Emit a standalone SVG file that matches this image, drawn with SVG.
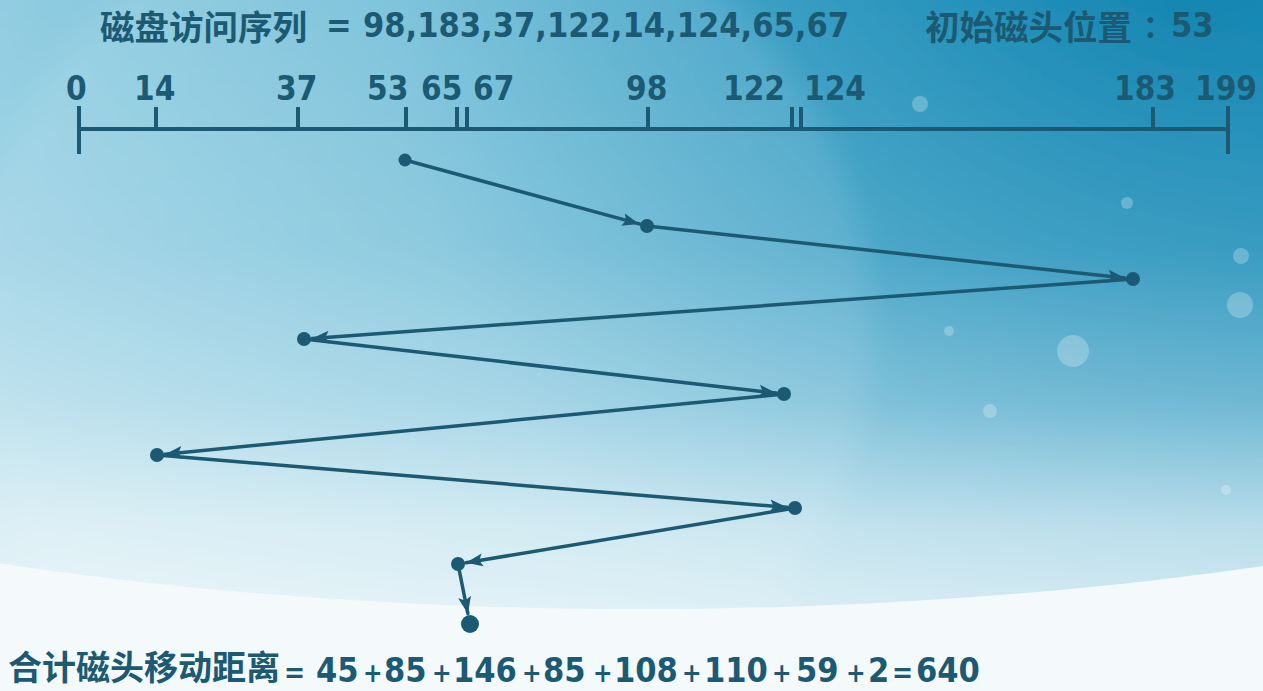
<svg xmlns="http://www.w3.org/2000/svg" width="1263" height="691" viewBox="0 0 1263 691">
<defs>
<linearGradient id="bgH" x1="0" y1="0" x2="1" y2="0">
<stop offset="0" stop-color="#93cee2"/>
<stop offset="0.45" stop-color="#62b6d3"/>
<stop offset="1" stop-color="#2597c1"/>
</linearGradient>
<linearGradient id="bgV" x1="0" y1="0" x2="0" y2="1">
<stop offset="0" stop-color="#ffffff" stop-opacity="0"/>
<stop offset="0.4" stop-color="#ffffff" stop-opacity="0.12"/>
<stop offset="0.65" stop-color="#ffffff" stop-opacity="0.35"/>
<stop offset="0.85" stop-color="#ffffff" stop-opacity="0.68"/>
<stop offset="1" stop-color="#ffffff" stop-opacity="0.8"/>
</linearGradient>
<radialGradient id="dark" cx="1200" cy="0" r="800" gradientUnits="userSpaceOnUse">
<stop offset="0" stop-color="#1082ae" stop-opacity="0.85"/>
<stop offset="0.5" stop-color="#1a8ab5" stop-opacity="0.45"/>
<stop offset="1" stop-color="#2a95bf" stop-opacity="0"/>
</radialGradient>
<radialGradient id="glow" cx="420" cy="330" r="470" gradientUnits="userSpaceOnUse">
<stop offset="0" stop-color="#ffffff" stop-opacity="0.12"/>
<stop offset="0.92" stop-color="#ffffff" stop-opacity="0.1"/>
<stop offset="1" stop-color="#ffffff" stop-opacity="0"/>
</radialGradient>
<clipPath id="dome">
<ellipse cx="640" cy="120" rx="1520" ry="489"/>
</clipPath>
<filter id="soft" x="-0.1" y="-0.1" width="1.2" height="1.2">
<feGaussianBlur stdDeviation="6"/>
</filter>
<marker id="arr" markerUnits="userSpaceOnUse" markerWidth="18" markerHeight="14" refX="17" refY="7" orient="auto">
<path d="M0,0.5 L17,7 L0,13.5 L3.5,7 Z" fill="#1b5a72"/>
</marker>
<style>
.ink{fill:#1b5a72}
.ln{stroke:#1b5a72;stroke-width:3.5;fill:none;stroke-linecap:round}
.ax{stroke:#1b5a72;stroke-width:4;fill:none}
.num{font-family:"DejaVu Sans Condensed","DejaVu Sans",sans-serif;font-stretch:condensed;font-weight:bold;fill:#1b5a72}
.cjk{font-family:"Noto Sans CJK SC","Noto Sans",sans-serif;font-weight:bold;fill:#1b5a72}
.bub{fill:#ffffff;opacity:0.25}
</style>
</defs>

<g id="background">
<rect width="1263" height="691" fill="#f4f9fb"/>
<g clip-path="url(#dome)" filter="url(#soft)">
<rect x="-20" y="-20" width="1303" height="640" fill="url(#bgH)"/>
<rect x="-20" y="-20" width="1303" height="640" fill="url(#dark)"/>
<rect x="-20" y="-20" width="1303" height="640" fill="url(#glow)"/>
<rect x="-20" y="0" width="1303" height="620" fill="url(#bgV)"/>
</g>
<circle class="bub" cx="920" cy="104" r="8"/>
<circle class="bub" cx="1127" cy="203" r="6"/>
<circle class="bub" cx="1241" cy="256" r="8"/>
<circle class="bub" cx="1240" cy="305" r="13"/>
<circle class="bub" cx="1073" cy="351" r="16"/>
<circle class="bub" cx="990" cy="411" r="7"/>
<circle class="bub" cx="949" cy="331" r="5"/>
<circle class="bub" cx="1226" cy="490" r="5"/>
</g>

<g id="title">
<text x="100" y="40" class="cjk" font-size="34.5">磁盘访问序列</text>
<text x="326" y="37" class="num" font-size="34">=</text>
<text x="363" y="37" class="num" font-size="34" textLength="486" lengthAdjust="spacingAndGlyphs">98,183,37,122,14,124,65,67</text>
</g>

<g id="initial-head">
<text x="925" y="40" class="cjk" font-size="34.5">初始磁头位置</text>
<text x="1143" y="37" class="cjk" font-size="30">：</text>
<text x="1171" y="37" class="num" font-size="34">53</text>
</g>

<g id="axis">
<line class="ax" x1="78" y1="129" x2="1229" y2="129"/>
<line class="ax" x1="79" y1="106" x2="79" y2="154"/>
<line class="ax" x1="1228" y1="106" x2="1228" y2="154"/>
<line class="ax" x1="156" y1="107" x2="156" y2="129"/>
<line class="ax" x1="298" y1="107" x2="298" y2="129"/>
<line class="ax" x1="406" y1="107" x2="406" y2="129"/>
<line class="ax" x1="457" y1="107" x2="457" y2="129"/>
<line class="ax" x1="467" y1="107" x2="467" y2="129"/>
<line class="ax" x1="648" y1="107" x2="648" y2="129"/>
<line class="ax" x1="792" y1="107" x2="792" y2="129"/>
<line class="ax" x1="801" y1="107" x2="801" y2="129"/>
<line class="ax" x1="1153" y1="107" x2="1153" y2="129"/>
<text x="66" y="100" class="num" font-size="33">0</text>
<text x="134" y="100" class="num" font-size="33">14</text>
<text x="276" y="100" class="num" font-size="33">37</text>
<text x="367" y="100" class="num" font-size="33">53</text>
<text x="421" y="100" class="num" font-size="33">65</text>
<text x="473" y="100" class="num" font-size="33">67</text>
<text x="626" y="100" class="num" font-size="33">98</text>
<text x="723" y="100" class="num" font-size="33">122</text>
<text x="804" y="100" class="num" font-size="33">124</text>
<text x="1114" y="100" class="num" font-size="33">183</text>
<text x="1195" y="100" class="num" font-size="33">199</text>
</g>

<g id="connectors">
<line class="ln" x1="405" y1="160" x2="639.3" y2="223.9" marker-end="url(#arr)"/>
<line class="ln" x1="647" y1="226" x2="1125" y2="278.1" marker-end="url(#arr)"/>
<line class="ln" x1="1133" y1="279" x2="312" y2="338.4" marker-end="url(#arr)"/>
<line class="ln" x1="304" y1="339" x2="776.1" y2="393.1" marker-end="url(#arr)"/>
<line class="ln" x1="784" y1="394" x2="165" y2="454.2" marker-end="url(#arr)"/>
<line class="ln" x1="157" y1="455" x2="787" y2="507.3" marker-end="url(#arr)"/>
<line class="ln" x1="795" y1="508" x2="465.9" y2="562.7" marker-end="url(#arr)"/>
<line class="ln" x1="458" y1="564" x2="467.9" y2="613.7" marker-end="url(#arr)"/>
</g>

<g id="n53"><circle class="ink" cx="405" cy="160" r="6.5"/></g>
<g id="n98"><circle class="ink" cx="647" cy="226" r="7"/></g>
<g id="n183"><circle class="ink" cx="1133" cy="279" r="7"/></g>
<g id="n37"><circle class="ink" cx="304" cy="339" r="7"/></g>
<g id="n122"><circle class="ink" cx="784" cy="394" r="7"/></g>
<g id="n14"><circle class="ink" cx="157" cy="455" r="7"/></g>
<g id="n124"><circle class="ink" cx="795" cy="508" r="7"/></g>
<g id="n65"><circle class="ink" cx="458" cy="564" r="7"/></g>
<g id="n67"><circle class="ink" cx="470" cy="624" r="9"/></g>

<g id="total">
<text class="num" font-size="34" y="682"><tspan class="cjk" font-size="34" x="8" y="680">合计磁头移动距离</tspan><tspan x="284" y="682" font-size="28">=</tspan><tspan x="316">45</tspan><tspan x="363" font-size="26">+</tspan><tspan x="384">85</tspan><tspan x="432" font-size="26">+</tspan><tspan x="453">146</tspan><tspan x="522" font-size="26">+</tspan><tspan x="543">85</tspan><tspan x="593" font-size="26">+</tspan><tspan x="614">108</tspan><tspan x="682" font-size="26">+</tspan><tspan x="704">110</tspan><tspan x="772" font-size="26">+</tspan><tspan x="796">59</tspan><tspan x="846" font-size="26">+</tspan><tspan x="868">2</tspan><tspan x="892" font-size="28">=</tspan><tspan x="916">640</tspan></text>
</g>
</svg>
